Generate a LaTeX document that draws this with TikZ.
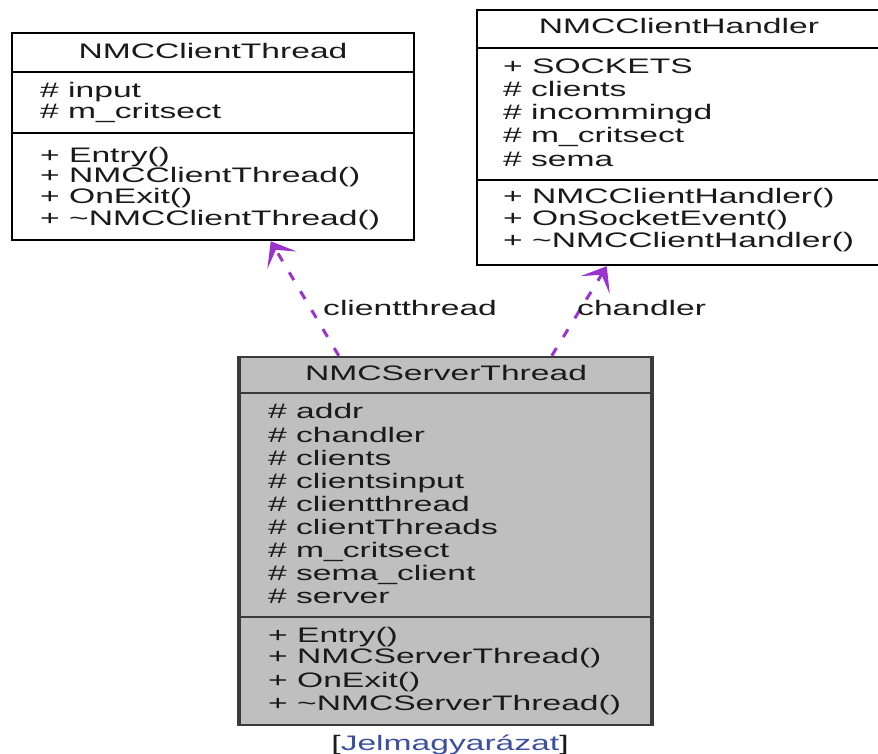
\documentclass[tikz,border=0pt]{standalone}
\usepackage{fontspec}
\setmainfont[FakeStretch=1.6]{Liberation Sans}
\usetikzlibrary{arrows.meta,calc}
\definecolor{edgepurple}{HTML}{9A32CD}
\definecolor{srvfill}{HTML}{BFBFBF}
\definecolor{srvline}{HTML}{3A3A3A}
\definecolor{linkblue}{HTML}{3D4FA0}
\definecolor{txtcol}{HTML}{1A1A1A}
\begin{document}
\begin{tikzpicture}[x=1pt,y=-1pt,
  txt/.style={anchor=west, inner sep=0pt, text=txtcol, font=\fontsize{21}{21}\selectfont, text height=15pt, text depth=4pt},
  ttl/.style={anchor=center, inner sep=0pt, text=txtcol, font=\fontsize{21}{21}\selectfont, text height=15pt, text depth=4pt},
  classbox/.style={draw=black, line width=2.5pt, inner sep=0pt, fill=white},
  srvbox/.style={draw=srvline, line width=2.5pt, inner sep=0pt, fill=srvfill},
  sepline/.style={line width=2.5pt},
  usage/.style={draw=edgepurple, line width=3pt, dash pattern=on 9pt off 13pt,
    -{Stealth[length=22pt,width=34pt,inset=12pt,sep=0pt]}},
  elabel/.style={anchor=west, inner sep=0pt, text=txtcol, font=\fontsize{21}{21}\selectfont, text height=15pt, text depth=4pt},
]
\useasboundingbox (0,0) rectangle (878,754);
\clip (0,0) rectangle (878,754);
\fill[white] (0,0) rectangle (878,754);

% ---- NMCClientThread ----
\node[classbox, minimum width=402pt, minimum height=207pt] (ct) at (213,136.5) {};
\draw[sepline] (12,72) -- (414,72);
\draw[sepline] (12,133) -- (414,133);
\node[ttl] (ctT) at (213,53) {NMCClientThread};
\node[txt] (ct1) at (40,92) {\# input};
\node[txt] (ct2) at (40,113) {\# m\_critsect};
\node[txt] (ct3) at (40,157) {+ Entry()};
\node[txt] (ct4) at (40,177) {+ NMCClientThread()};
\node[txt] (ct5) at (40,198) {+ OnExit()};
\node[txt] (ct6) at (40,220) {+ \textasciitilde NMCClientThread()};

% ---- NMCClientHandler ----
\node[classbox, minimum width=403pt, minimum height=255pt] (ch) at (678.5,137.5) {};
\draw[sepline] (477,48) -- (880,48);
\draw[sepline] (477,180) -- (880,180);
\node[ttl] (chT) at (679,28) {NMCClientHandler};
\node[txt] (ch1) at (503,68) {+ SOCKETS};
\node[txt] (ch2) at (503,91) {\# clients};
\node[txt] (ch3) at (503,114) {\# incommingd};
\node[txt] (ch4) at (503,137) {\# m\_critsect};
\node[txt] (ch5) at (503,161) {\# sema};
\node[txt] (ch6) at (503,198) {+ NMCClientHandler()};
\node[txt] (ch7) at (503,220) {+ OnSocketEvent()};
\node[txt] (ch8) at (503,242) {+ \textasciitilde NMCClientHandler()};

% ---- NMCServerThread ----
\node[srvbox, minimum width=411pt, minimum height=368pt] (srv) at (445.5,541) {};
\draw[srvline, line width=4pt] (srv.north west) -- (srv.south west);
\draw[srvline, line width=4pt] (srv.north east) -- (srv.south east);
\draw[sepline, srvline] (240,393) -- (651,393);
\draw[sepline, srvline] (240,617) -- (651,617);
\node[ttl] (srvT) at (446,375) {NMCServerThread};
\node[txt] (s1) at (268,413) {\# addr};
\node[txt] (s2) at (268,437) {\# chandler};
\node[txt] (s3) at (268,460) {\# clients};
\node[txt] (s4) at (268,483) {\# clientsinput};
\node[txt] (s5) at (268,506) {\# clientthread};
\node[txt] (s6) at (268,529) {\# clientThreads};
\node[txt] (s7) at (268,552) {\# m\_critsect};
\node[txt] (s8) at (268,575) {\# sema\_client};
\node[txt] (s9) at (268,598) {\# server};
\node[txt] (s10) at (268,637) {+ Entry()};
\node[txt] (s11) at (268,658) {+ NMCServerThread()};
\node[txt] (s12) at (268,682) {+ OnExit()};
\node[txt] (s13) at (268,705) {+ \textasciitilde NMCServerThread()};

% ---- connectors ----
\draw[usage] ($(srv.north west)+(100,0)$) -- ($(ct.south west)+(260,0)$);
\draw[usage] ($(srv.north west)+(313,0)$) -- ($(ch.south west)+(131,0)$);
\node[elabel] (l1) at (323,310) {clientthread};
\node[elabel] (l2) at (577,310) {chandler};

% ---- legend ----
\node[ttl] (leg) at (450,745) {[{\color{linkblue}\underline{Jelmagyarázat}}]};
\end{tikzpicture}
\end{document}
